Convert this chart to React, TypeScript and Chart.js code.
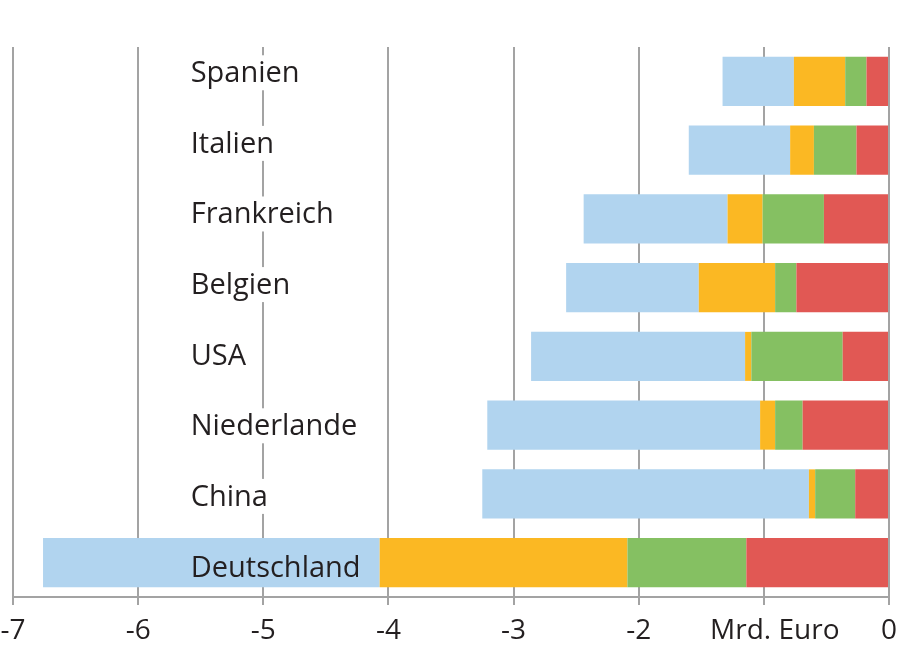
import React, { useEffect, useRef } from "react";
import { Chart, registerables } from "chart.js";

Chart.register(...registerables);

const countries = ["Spanien", "Italien", "Frankreich", "Belgien", "USA", "Niederlande", "China", "Deutschland"];
const seriesRed = [-0.18, -0.26, -0.52, -0.74, -0.37, -0.69, -0.27, -1.14];
const seriesGreen = [-0.17, -0.34, -0.49, -0.17, -0.73, -0.22, -0.32, -0.95];
const seriesOrange = [-0.41, -0.19, -0.28, -0.61, -0.05, -0.12, -0.05, -1.98];
const seriesBlue = [-0.57, -0.81, -1.15, -1.06, -1.71, -2.18, -2.61, -2.69];
const xTicks = [-7, -6, -5, -4, -3, -2, -1, 0];
const unitLabel = "   Mrd. Euro";
const unitTickValue = -1;

const FONT = "'Open Sans', 'Noto Sans', sans-serif";
const TEXT = "#231f20";
const GRID = "#a3a3a3";
const LABEL_FONT_SIZE = 29;
// label anchor, in scale units
const LABEL_X_VALUE = -5.58;
const LABEL_ROW_START = 0.013;
const LABEL_ROW_STEP = 1.027;

const labelY = (ys: any, i: number) => ys.getPixelForValue(LABEL_ROW_START + i * LABEL_ROW_STEP);

const labelPlugin = {
  id: "countryLabels",
  beforeDatasetsDraw(chart: any) {
    const ctx = chart.ctx;
    const xs = chart.scales.x;
    const ys = chart.scales.y;
    ctx.save();
    ctx.font = `${LABEL_FONT_SIZE}px ${FONT}`;
    countries.forEach((c, i) => {
      const x = xs.getPixelForValue(LABEL_X_VALUE);
      const y = labelY(ys, i);
      const w = ctx.measureText(c).width;
      ctx.fillStyle = "#ffffff";
      ctx.fillRect(x - 4, y - 27, w + 8, 35);
    });
    ctx.restore();
  },
  afterDatasetsDraw(chart: any) {
    const ctx = chart.ctx;
    const xs = chart.scales.x;
    const ys = chart.scales.y;
    ctx.save();
    ctx.font = `${LABEL_FONT_SIZE}px ${FONT}`;
    ctx.fillStyle = TEXT;
    ctx.textAlign = "left";
    ctx.textBaseline = "alphabetic";
    countries.forEach((c, i) => {
      ctx.fillText(c, xs.getPixelForValue(LABEL_X_VALUE), labelY(ys, i));
    });
    ctx.restore();
  },
};

export default function App() {
  const ref = useRef<HTMLCanvasElement>(null);
  useEffect(() => {
    if (!ref.current) return;
    const mk = (label: string, data: number[], color: string) => ({
      label,
      data,
      backgroundColor: color,
      borderWidth: 0,
      barPercentage: 0.713,
      categoryPercentage: 1,
    });
    const chart = new Chart(ref.current, {
      type: "bar",
      data: {
        labels: countries,
        datasets: [
          mk("Rot", seriesRed, "#e15854"),
          mk("Grün", seriesGreen, "#85c062"),
          mk("Orange", seriesOrange, "#fbb823"),
          mk("Blau", seriesBlue, "#b1d4ef"),
        ],
      },
      options: {
        indexAxis: "y",
        animation: false,
        responsive: false,
        devicePixelRatio: 1,
        layout: { padding: { left: 13, right: 13, top: 47, bottom: 0 } },
        plugins: { legend: { display: false }, tooltip: { enabled: false } },
        scales: {
          x: {
            type: "linear",
            stacked: true,
            min: -7,
            max: 0,
            afterBuildTicks: (s: any) => {
              s.ticks = xTicks.map((v) => ({ value: v }));
            },
            afterFit: (s: any) => {
              s.paddingLeft = 0;
              s.paddingRight = 0;
              s.height = 50;
            },
            grid: {
              color: GRID,
              lineWidth: 2,
              drawTicks: true,
              tickLength: 8,
              tickColor: GRID,
            },
            border: { display: true, color: GRID, width: 2 },
            ticks: {
              font: { family: FONT, size: 28 },
              color: TEXT,
              padding: 9,
              maxRotation: 0,
              autoSkip: false,
              callback: (v: any) => (v === unitTickValue ? unitLabel : String(v)),
            },
          },
          y: {
            type: "category",
            stacked: true,
            display: false,
          },
        },
      },
      plugins: [labelPlugin],
    } as any);
    return () => chart.destroy();
  }, []);
  return (
    <div style={{ position: "absolute", left: 0, top: 0, width: 902, height: 647 }}>
      <canvas ref={ref} width={902} height={647} style={{ width: 902, height: 647 }} />
    </div>
  );
}
